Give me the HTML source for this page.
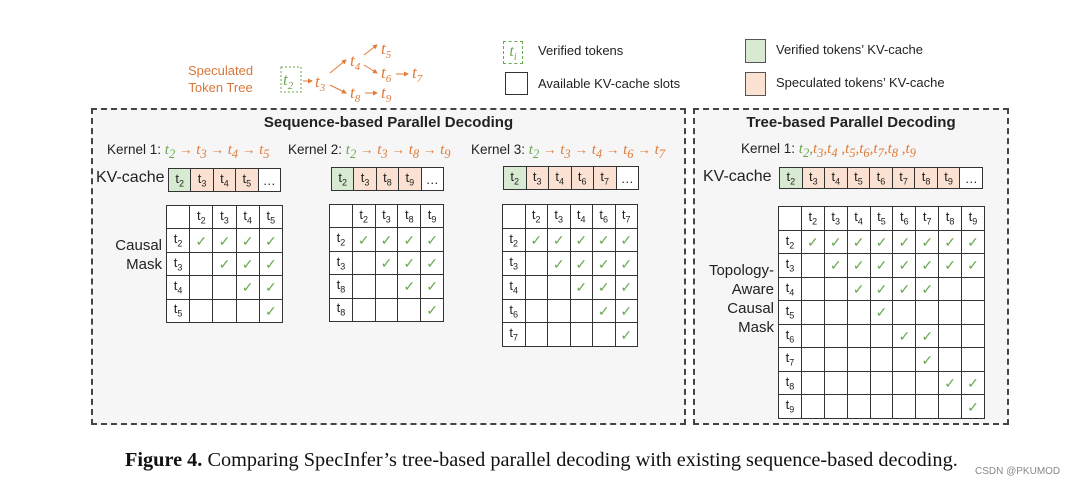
<!DOCTYPE html>
<html><head><meta charset="utf-8"><style>
body{margin:0;width:1080px;height:487px;background:#fff;position:relative;overflow:hidden;font-family:"Liberation Sans",sans-serif;color:#222}
.a{position:absolute}
.box{position:absolute;border:2px dashed #444;background:#f6f6f6;box-sizing:border-box}
table{position:absolute;border-collapse:collapse;table-layout:fixed}
td{border:1px solid #333;padding:0;text-align:center;font-size:13px;background:#fff;color:#222;line-height:1}
td sub{font-size:9px}
.g{background:#d9ead3}.o{background:#fbe1d2}
.c{color:#6aa84f;font-size:14px}
.k{font-size:13.5px;white-space:nowrap}
.k i{font-family:"Liberation Serif",serif;font-size:15px}
.gr{color:#6aa84f}.or{color:#e07b39}
.lbl{font-size:15px;text-align:right;line-height:19px}
</style></head><body>

<!-- top tree -->
<div class="a" style="left:188px;top:62px;color:#d9773a;font-size:13px;text-align:center;line-height:17px">Speculated<br>Token Tree</div>
<svg class="a" style="left:270px;top:35px" width="170" height="70">
<defs><marker id="m" markerWidth="5" markerHeight="5" refX="4" refY="2.5" orient="auto"><path d="M0,0L5,2.5L0,5z" fill="#e07b39"/></marker></defs>
<rect x="11" y="32" width="20" height="25" fill="none" stroke="#6aa84f" stroke-dasharray="2,2"/>
<g font-family="Liberation Serif,serif" font-style="italic" font-size="17">
<text x="13" y="50" fill="#6aa84f">t<tspan font-size="11" dy="4">2</tspan></text>
<g fill="#e07b39">
<text x="45" y="52">t<tspan font-size="11" dy="4">3</tspan></text>
<text x="80" y="31">t<tspan font-size="11" dy="4">4</tspan></text>
<text x="111" y="19">t<tspan font-size="11" dy="4">5</tspan></text>
<text x="111" y="43">t<tspan font-size="11" dy="4">6</tspan></text>
<text x="142" y="43">t<tspan font-size="11" dy="4">7</tspan></text>
<text x="80" y="63">t<tspan font-size="11" dy="4">8</tspan></text>
<text x="111" y="63">t<tspan font-size="11" dy="4">9</tspan></text>
</g></g>
<g stroke="#e07b39" stroke-width="1" marker-end="url(#m)">
<line x1="33" y1="46" x2="42" y2="46"/>
<line x1="60" y1="38" x2="76" y2="25"/>
<line x1="60" y1="50" x2="76" y2="58"/>
<line x1="94" y1="20" x2="107" y2="10"/>
<line x1="94" y1="30" x2="107" y2="38"/>
<line x1="126" y1="39" x2="138" y2="39"/>
<line x1="95" y1="58" x2="107" y2="58"/>
</g></svg>

<!-- legend -->
<div class="a" style="left:503px;top:41px;width:18px;height:21px;border:1px dashed #6aa84f;color:#6aa84f;font-family:'Liberation Serif',serif;font-style:italic;font-size:16px;text-align:center;line-height:20px">t<sub style="font-size:10px">i</sub></div>
<div class="a" style="left:538px;top:43px;font-size:13px">Verified tokens</div>
<div class="a" style="left:505px;top:72px;width:21px;height:21px;border:1.5px solid #333;background:#fff"></div>
<div class="a" style="left:538px;top:76px;font-size:13px">Available KV-cache slots</div>
<div class="a" style="left:745px;top:39px;width:19px;height:22px;border:1.5px solid #555;background:#d9ead3"></div>
<div class="a" style="left:776px;top:42px;font-size:13px">Verified tokens’ KV-cache</div>
<div class="a" style="left:745px;top:72px;width:19px;height:22px;border:1.5px solid #555;background:#fbe1d2"></div>
<div class="a" style="left:776px;top:75px;font-size:13px">Speculated tokens’ KV-cache</div>

<!-- boxes -->
<div class="box" style="left:91px;top:108px;width:595px;height:317px"></div>
<div class="box" style="left:693px;top:108px;width:316px;height:317px"></div>
<div class="a" style="left:91px;width:595px;top:114px;text-align:center;font-weight:bold;font-size:15px">Sequence-based Parallel Decoding</div>
<div class="a" style="left:693px;width:316px;top:114px;text-align:center;font-weight:bold;font-size:15px">Tree-based Parallel Decoding</div>

<div class="a k" style="left:107px;top:142px">Kernel 1: <i class="gr">t<sub>2</sub></i> <span class="or">→ <i>t<sub>3</sub></i> → <i>t<sub>4</sub></i> → <i>t<sub>5</sub></i></span></div>
<div class="a k" style="left:288px;top:142px">Kernel 2: <i class="gr">t<sub>2</sub></i> <span class="or">→ <i>t<sub>3</sub></i> → <i>t<sub>8</sub></i> → <i>t<sub>9</sub></i></span></div>
<div class="a k" style="left:471px;top:142px">Kernel 3: <i class="gr">t<sub>2</sub></i> <span class="or">→ <i>t<sub>3</sub></i> → <i>t<sub>4</sub></i> → <i>t<sub>6</sub></i> → <i>t<sub>7</sub></i></span></div>
<div class="a k" style="left:741px;top:141px">Kernel 1: <i class="gr">t<sub>2</sub>,</i><span class="or"><i>t<sub>3</sub>,t<sub>4</sub> ,t<sub>5</sub>,t<sub>6</sub>,t<sub>7</sub>,t<sub>8</sub> ,t<sub>9</sub></i></span></div>

<div class="a" style="left:96px;top:169px;font-size:16px">KV-cache</div>
<div class="a" style="left:703px;top:168px;font-size:16px">KV-cache</div>

<table style="left:168px;top:168px;width:113px;height:24px"><tr><td class="g">t<sub>2</sub></td><td class="o">t<sub>3</sub></td><td class="o">t<sub>4</sub></td><td class="o">t<sub>5</sub></td><td>…</td></tr></table>
<table style="left:331px;top:167px;width:113px;height:24px"><tr><td class="g">t<sub>2</sub></td><td class="o">t<sub>3</sub></td><td class="o">t<sub>8</sub></td><td class="o">t<sub>9</sub></td><td>…</td></tr></table>
<table style="left:503px;top:166px;width:136px;height:24px"><tr><td class="g">t<sub>2</sub></td><td class="o">t<sub>3</sub></td><td class="o">t<sub>4</sub></td><td class="o">t<sub>6</sub></td><td class="o">t<sub>7</sub></td><td>…</td></tr></table>
<table style="left:779px;top:167px;width:204px;height:22px"><tr><td class="g">t<sub>2</sub></td><td class="o">t<sub>3</sub></td><td class="o">t<sub>4</sub></td><td class="o">t<sub>5</sub></td><td class="o">t<sub>6</sub></td><td class="o">t<sub>7</sub></td><td class="o">t<sub>8</sub></td><td class="o">t<sub>9</sub></td><td>…</td></tr></table>

<div class="a lbl" style="left:100px;top:236px;width:62px">Causal<br>Mask</div>
<table style="left:166px;top:205px;width:117px;height:118px">
<tr><td></td><td>t<sub>2</sub></td><td>t<sub>3</sub></td><td>t<sub>4</sub></td><td>t<sub>5</sub></td></tr>
<tr><td>t<sub>2</sub></td><td class="c">✓</td><td class="c">✓</td><td class="c">✓</td><td class="c">✓</td></tr>
<tr><td>t<sub>3</sub></td><td></td><td class="c">✓</td><td class="c">✓</td><td class="c">✓</td></tr>
<tr><td>t<sub>4</sub></td><td></td><td></td><td class="c">✓</td><td class="c">✓</td></tr>
<tr><td>t<sub>5</sub></td><td></td><td></td><td></td><td class="c">✓</td></tr>
</table>
<table style="left:329px;top:204px;width:115px;height:118px">
<tr><td></td><td>t<sub>2</sub></td><td>t<sub>3</sub></td><td>t<sub>8</sub></td><td>t<sub>9</sub></td></tr>
<tr><td>t<sub>2</sub></td><td class="c">✓</td><td class="c">✓</td><td class="c">✓</td><td class="c">✓</td></tr>
<tr><td>t<sub>3</sub></td><td></td><td class="c">✓</td><td class="c">✓</td><td class="c">✓</td></tr>
<tr><td>t<sub>8</sub></td><td></td><td></td><td class="c">✓</td><td class="c">✓</td></tr>
<tr><td>t<sub>8</sub></td><td></td><td></td><td></td><td class="c">✓</td></tr>
</table>
<table style="left:502px;top:204px;width:136px;height:143px">
<tr><td></td><td>t<sub>2</sub></td><td>t<sub>3</sub></td><td>t<sub>4</sub></td><td>t<sub>6</sub></td><td>t<sub>7</sub></td></tr>
<tr><td>t<sub>2</sub></td><td class="c">✓</td><td class="c">✓</td><td class="c">✓</td><td class="c">✓</td><td class="c">✓</td></tr>
<tr><td>t<sub>3</sub></td><td></td><td class="c">✓</td><td class="c">✓</td><td class="c">✓</td><td class="c">✓</td></tr>
<tr><td>t<sub>4</sub></td><td></td><td></td><td class="c">✓</td><td class="c">✓</td><td class="c">✓</td></tr>
<tr><td>t<sub>6</sub></td><td></td><td></td><td></td><td class="c">✓</td><td class="c">✓</td></tr>
<tr><td>t<sub>7</sub></td><td></td><td></td><td></td><td></td><td class="c">✓</td></tr>
</table>

<div class="a lbl" style="left:700px;top:261px;width:74px">Topology-<br>Aware<br>Causal<br>Mask</div>
<table style="left:778px;top:206px;width:207px;height:213px">
<tr><td></td><td>t<sub>2</sub></td><td>t<sub>3</sub></td><td>t<sub>4</sub></td><td>t<sub>5</sub></td><td>t<sub>6</sub></td><td>t<sub>7</sub></td><td>t<sub>8</sub></td><td>t<sub>9</sub></td></tr>
<tr><td>t<sub>2</sub></td><td class="c">✓</td><td class="c">✓</td><td class="c">✓</td><td class="c">✓</td><td class="c">✓</td><td class="c">✓</td><td class="c">✓</td><td class="c">✓</td></tr>
<tr><td>t<sub>3</sub></td><td></td><td class="c">✓</td><td class="c">✓</td><td class="c">✓</td><td class="c">✓</td><td class="c">✓</td><td class="c">✓</td><td class="c">✓</td></tr>
<tr><td>t<sub>4</sub></td><td></td><td></td><td class="c">✓</td><td class="c">✓</td><td class="c">✓</td><td class="c">✓</td><td></td><td></td></tr>
<tr><td>t<sub>5</sub></td><td></td><td></td><td></td><td class="c">✓</td><td></td><td></td><td></td><td></td></tr>
<tr><td>t<sub>6</sub></td><td></td><td></td><td></td><td></td><td class="c">✓</td><td class="c">✓</td><td></td><td></td></tr>
<tr><td>t<sub>7</sub></td><td></td><td></td><td></td><td></td><td></td><td class="c">✓</td><td></td><td></td></tr>
<tr><td>t<sub>8</sub></td><td></td><td></td><td></td><td></td><td></td><td></td><td class="c">✓</td><td class="c">✓</td></tr>
<tr><td>t<sub>9</sub></td><td></td><td></td><td></td><td></td><td></td><td></td><td></td><td class="c">✓</td></tr>
</table>

<div class="a" style="left:125px;top:449px;font-family:'Liberation Serif',serif;font-size:20.3px;white-space:nowrap;color:#111"><b>Figure 4.</b> Comparing SpecInfer’s tree-based parallel decoding with existing sequence-based decoding.</div>
<div class="a" style="left:975px;top:466px;font-size:10px;color:#888">CSDN @PKUMOD</div>
</body></html>
